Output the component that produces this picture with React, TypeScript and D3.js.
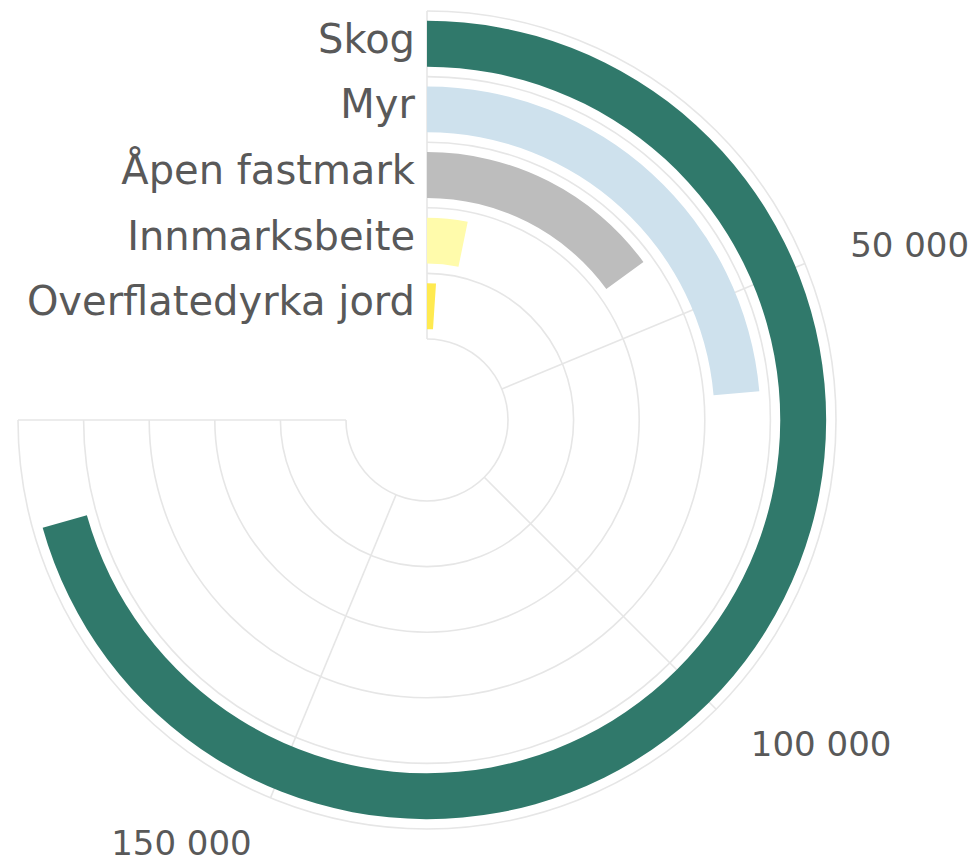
import * as d3 from "d3";
import { useEffect, useRef } from "react";

const categories = ["Skog", "Myr", "Åpen fastmark", "Innmarksbeite", "Overflatedyrka jord"];
const values = [188400, 63000, 39900, 8600, 2800];
const colors = ["#30796b", "#cee1ed", "#bdbdbd", "#fffbab", "#ffea50"];
const tickValues = [0, 50000, 100000, 150000, 200000];
const tickLabels = ["", "50 000", "100 000", "150 000", ""];

const width = 980;
const height = 861;
const cx = 427;
const cy = 420;
const outerR = 409;
const innerR = 81;
const maxValue = 200000;

const App = () => {
    const chartRef = useRef(null);

    useEffect(() => {
        const svg = d3.select(chartRef.current);
        svg.selectAll("*").remove();

        const angle = d3.scaleLinear()
            .domain([0, maxValue])
            .range([0, Math.PI * 1.5]);

        // bars sit in the middle of each ring
        const radius = d3.scaleBand()
            .domain(categories)
            .range([outerR, innerR])
            .paddingInner(0.3)
            .paddingOuter(0.15);

        const ring = d3.scaleBand()
            .domain(categories)
            .range([outerR, innerR]);

        const g = svg.append("g").attr("transform", `translate(${cx}, ${cy})`);

        // concentric grid arcs
        const ringRadii = categories.map(c => ring(c)).concat([outerR]);
        const gridArc = d3.arc()
            .startAngle(0)
            .endAngle(angle(maxValue));
        g.selectAll(".grid-ring")
            .data(ringRadii)
            .enter()
            .append("path")
            .attr("d", r => gridArc({ innerRadius: r, outerRadius: r }))
            .attr("fill", "none")
            .attr("stroke", "#e6e6e6")
            .attr("stroke-width", 1.6);

        // radial grid lines
        g.selectAll(".grid-spoke")
            .data(tickValues)
            .enter()
            .append("line")
            .attr("x1", d => innerR * Math.sin(angle(d)))
            .attr("y1", d => -innerR * Math.cos(angle(d)))
            .attr("x2", d => outerR * Math.sin(angle(d)))
            .attr("y2", d => -outerR * Math.cos(angle(d)))
            .attr("stroke", "#e6e6e6")
            .attr("stroke-width", 1.6);

        // bars
        const barArc = d3.arc();
        g.selectAll(".bar")
            .data(categories)
            .enter()
            .append("path")
            .attr("d", (c, i) => barArc({
                innerRadius: radius(c),
                outerRadius: radius(c) + radius.bandwidth(),
                startAngle: 0,
                endAngle: angle(values[i])
            }))
            .attr("fill", (c, i) => colors[i]);

        // category labels
        g.selectAll(".cat-label")
            .data(categories)
            .enter()
            .append("text")
            .attr("x", -12)
            .attr("y", c => -(radius(c) + radius.bandwidth() / 2) + 9)
            .attr("text-anchor", "end")
            .style("font-family", "DejaVu Sans, sans-serif")
            .style("font-size", "40px")
            .style("fill", "#595959")
            .text(c => c);

        // angular tick labels
        const labelR = outerR + 49;
        g.selectAll(".tick-label")
            .data(tickValues.filter((d, i) => tickLabels[i] !== ""))
            .enter()
            .append("text")
            .attr("x", d => labelR * Math.sin(angle(d)))
            .attr("y", d => -labelR * Math.cos(angle(d)))
            .attr("dominant-baseline", "central")
            .attr("text-anchor", d => angle(d) > Math.PI ? "end" : "start")
            .style("font-family", "DejaVu Sans, sans-serif")
            .style("font-size", "34px")
            .style("fill", "#595959")
            .text(d => tickLabels[tickValues.indexOf(d)]);
    }, []);

    return (
        <svg
            ref={chartRef}
            width={width}
            height={height}
            style={{ position: "absolute", left: 0, top: 0, background: "#fff" }}
        ></svg>
    );
};

export default App;
